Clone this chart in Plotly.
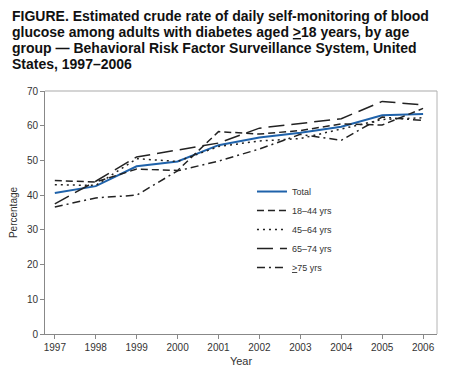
import plotly.graph_objects as go

years = [1997, 1998, 1999, 2000, 2001, 2002, 2003, 2004, 2005, 2006]
total = [40.6, 42.6, 48.3, 49.7, 54.4, 56.6, 58.0, 59.7, 63.0, 63.4]
age_18_44 = [44.2, 43.8, 47.5, 47.1, 58.3, 57.6, 58.6, 60.5, 60.2, 65.0]
age_45_64 = [43.0, 42.8, 50.5, 49.7, 54.0, 55.6, 56.3, 59.0, 61.8, 62.3]
age_65_74 = [37.5, 44.0, 51.0, 53.0, 55.0, 59.3, 60.6, 62.0, 67.0, 66.0]
age_75_up = [36.6, 39.2, 40.0, 47.0, 49.8, 53.3, 57.5, 55.8, 62.5, 61.5]
y_ticks = [0, 10, 20, 30, 40, 50, 60, 70]

title_lines = [
    "FIGURE. Estimated crude rate of daily self-monitoring of blood",
    "glucose among adults with diabetes aged <u>&gt;</u>18 years, by age",
    "group — Behavioral Risk Factor Surveillance System, United",
    "States, 1997–2006",
]

series = [
    ("Total", total, "#1f62aa", "solid", 2),
    ("18–44 yrs", age_18_44, "#222222", "7px,4px", 1.5),
    ("45–64 yrs", age_45_64, "#222222", "2px,4px", 1.5),
    ("65–74 yrs", age_65_74, "#222222", "16px,7px", 1.5),
    ("<u>&gt;</u>75 yrs", age_75_up, "#222222", "8px,4px,2px,4px", 1.5),
]

# The page adds an 8px body margin, so the figure is sized to fit the window.
W, H = 446, 371
ML, MR, MT, MB = 37, 17, 83, 45
PW, PH = W - ML - MR, H - MT - MB


def px_x(x):
    return (x - ML) / PW


def px_y(y):
    return (H - MB - y) / PH


fig = go.Figure()
for name, vals, color, dash, w in series:
    fig.add_trace(go.Scatter(
        x=years, y=vals, name=name, mode="lines",
        line=dict(color=color, dash=dash, width=w),
    ))

annotations = []
title_centers = [7.5, 24.0, 40.3, 56.0]
for line, cy in zip(title_lines, title_centers):
    annotations.append(dict(
        text="<b>" + line + "</b>", xref="paper", yref="paper",
        x=px_x(2), y=px_y(cy), xanchor="left", yanchor="middle",
        showarrow=False,
        font=dict(family="Liberation Sans, Arial, sans-serif", size=14, color="#111111"),
    ))

fig.update_layout(
    width=W, height=H,
    margin=dict(l=ML, r=MR, t=MT, b=MB, autoexpand=False),
    paper_bgcolor="white", plot_bgcolor="white",
    font=dict(family="Liberation Sans, Arial, sans-serif", size=9, color="#333333"),
    showlegend=True,
    legend=dict(x=0.528, y=0.646, xanchor="left", yanchor="top",
                bgcolor="rgba(0,0,0,0)", font=dict(size=9, color="#333333"),
                tracegroupgap=0),
    annotations=annotations,
    shapes=[
        dict(type="line", xref="paper", yref="paper", x0=0, x1=1, y0=1, y1=1,
             line=dict(color="#d4d4d4", width=2)),
        dict(type="line", xref="paper", yref="paper", x0=1, x1=1, y0=0, y1=1,
             line=dict(color="#b4b4b4", width=1)),
    ],
)

fig.update_xaxes(
    range=[1996.76, 2006.34], tickvals=years, ticktext=[str(y) for y in years],
    showgrid=False, zeroline=False, showline=True, linecolor="#888888", linewidth=1,
    ticks="outside", ticklen=4, tickcolor="#888888",
    title=dict(text="Year", font=dict(size=11, color="#333333"), standoff=5),
    tickfont=dict(size=10, color="#333333"),
)
fig.update_yaxes(
    range=[0, 70], tickvals=y_ticks,
    showgrid=False, zeroline=False, showline=True, linecolor="#888888", linewidth=1,
    ticks="outside", ticklen=4, tickcolor="#888888",
    title=dict(text="Percentage", font=dict(size=10, color="#333333"), standoff=9),
    tickfont=dict(size=10, color="#333333"),
)

fig.write_html("out.html")
